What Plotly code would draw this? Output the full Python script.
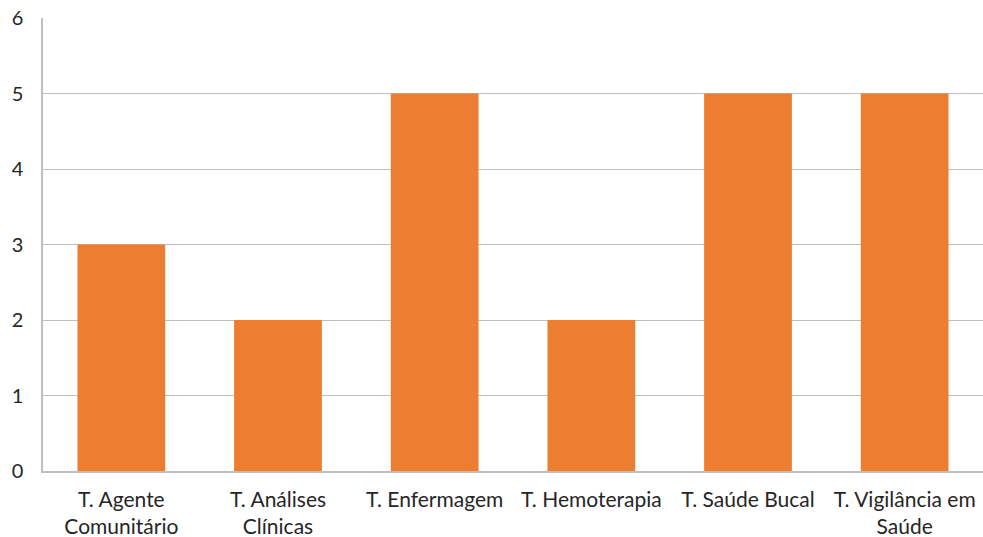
import plotly.graph_objects as go

categories = ["T. Agente<br>Comunitário", "T. Análises<br>Clínicas", "T. Enfermagem",
              "T. Hemoterapia", "T. Saúde Bucal", "T. Vigilância em<br>Saúde"]
values = [3, 2, 5, 2, 5, 5]
y_ticks = [0, 1, 2, 3, 4, 5, 6]

fig = go.Figure(go.Bar(x=categories, y=values, marker=dict(color="#ED7D31", line=dict(width=0))))

fig.update_layout(
    width=983, height=537,
    margin=dict(l=43, r=0, t=18, b=66),
    paper_bgcolor="white", plot_bgcolor="white",
    bargap=0.44,
    showlegend=False,
    font=dict(family="Lato, Open Sans, sans-serif", size=21, color="#262626"),
)
fig.update_xaxes(showline=True, linecolor="#BFBFBF", linewidth=1.5, ticks="", tickfont=dict(size=21),
                 showgrid=False, ticklabelstandoff=9)
fig.update_yaxes(range=[0, 6], tickvals=y_ticks, showgrid=True, gridcolor="#BFBFBF", gridwidth=1,
                 showline=True, linecolor="#BFBFBF", linewidth=1.5, ticks="", zeroline=False,
                 ticklabelstandoff=14, tickfont=dict(size=20))

fig.write_html("out.html")
